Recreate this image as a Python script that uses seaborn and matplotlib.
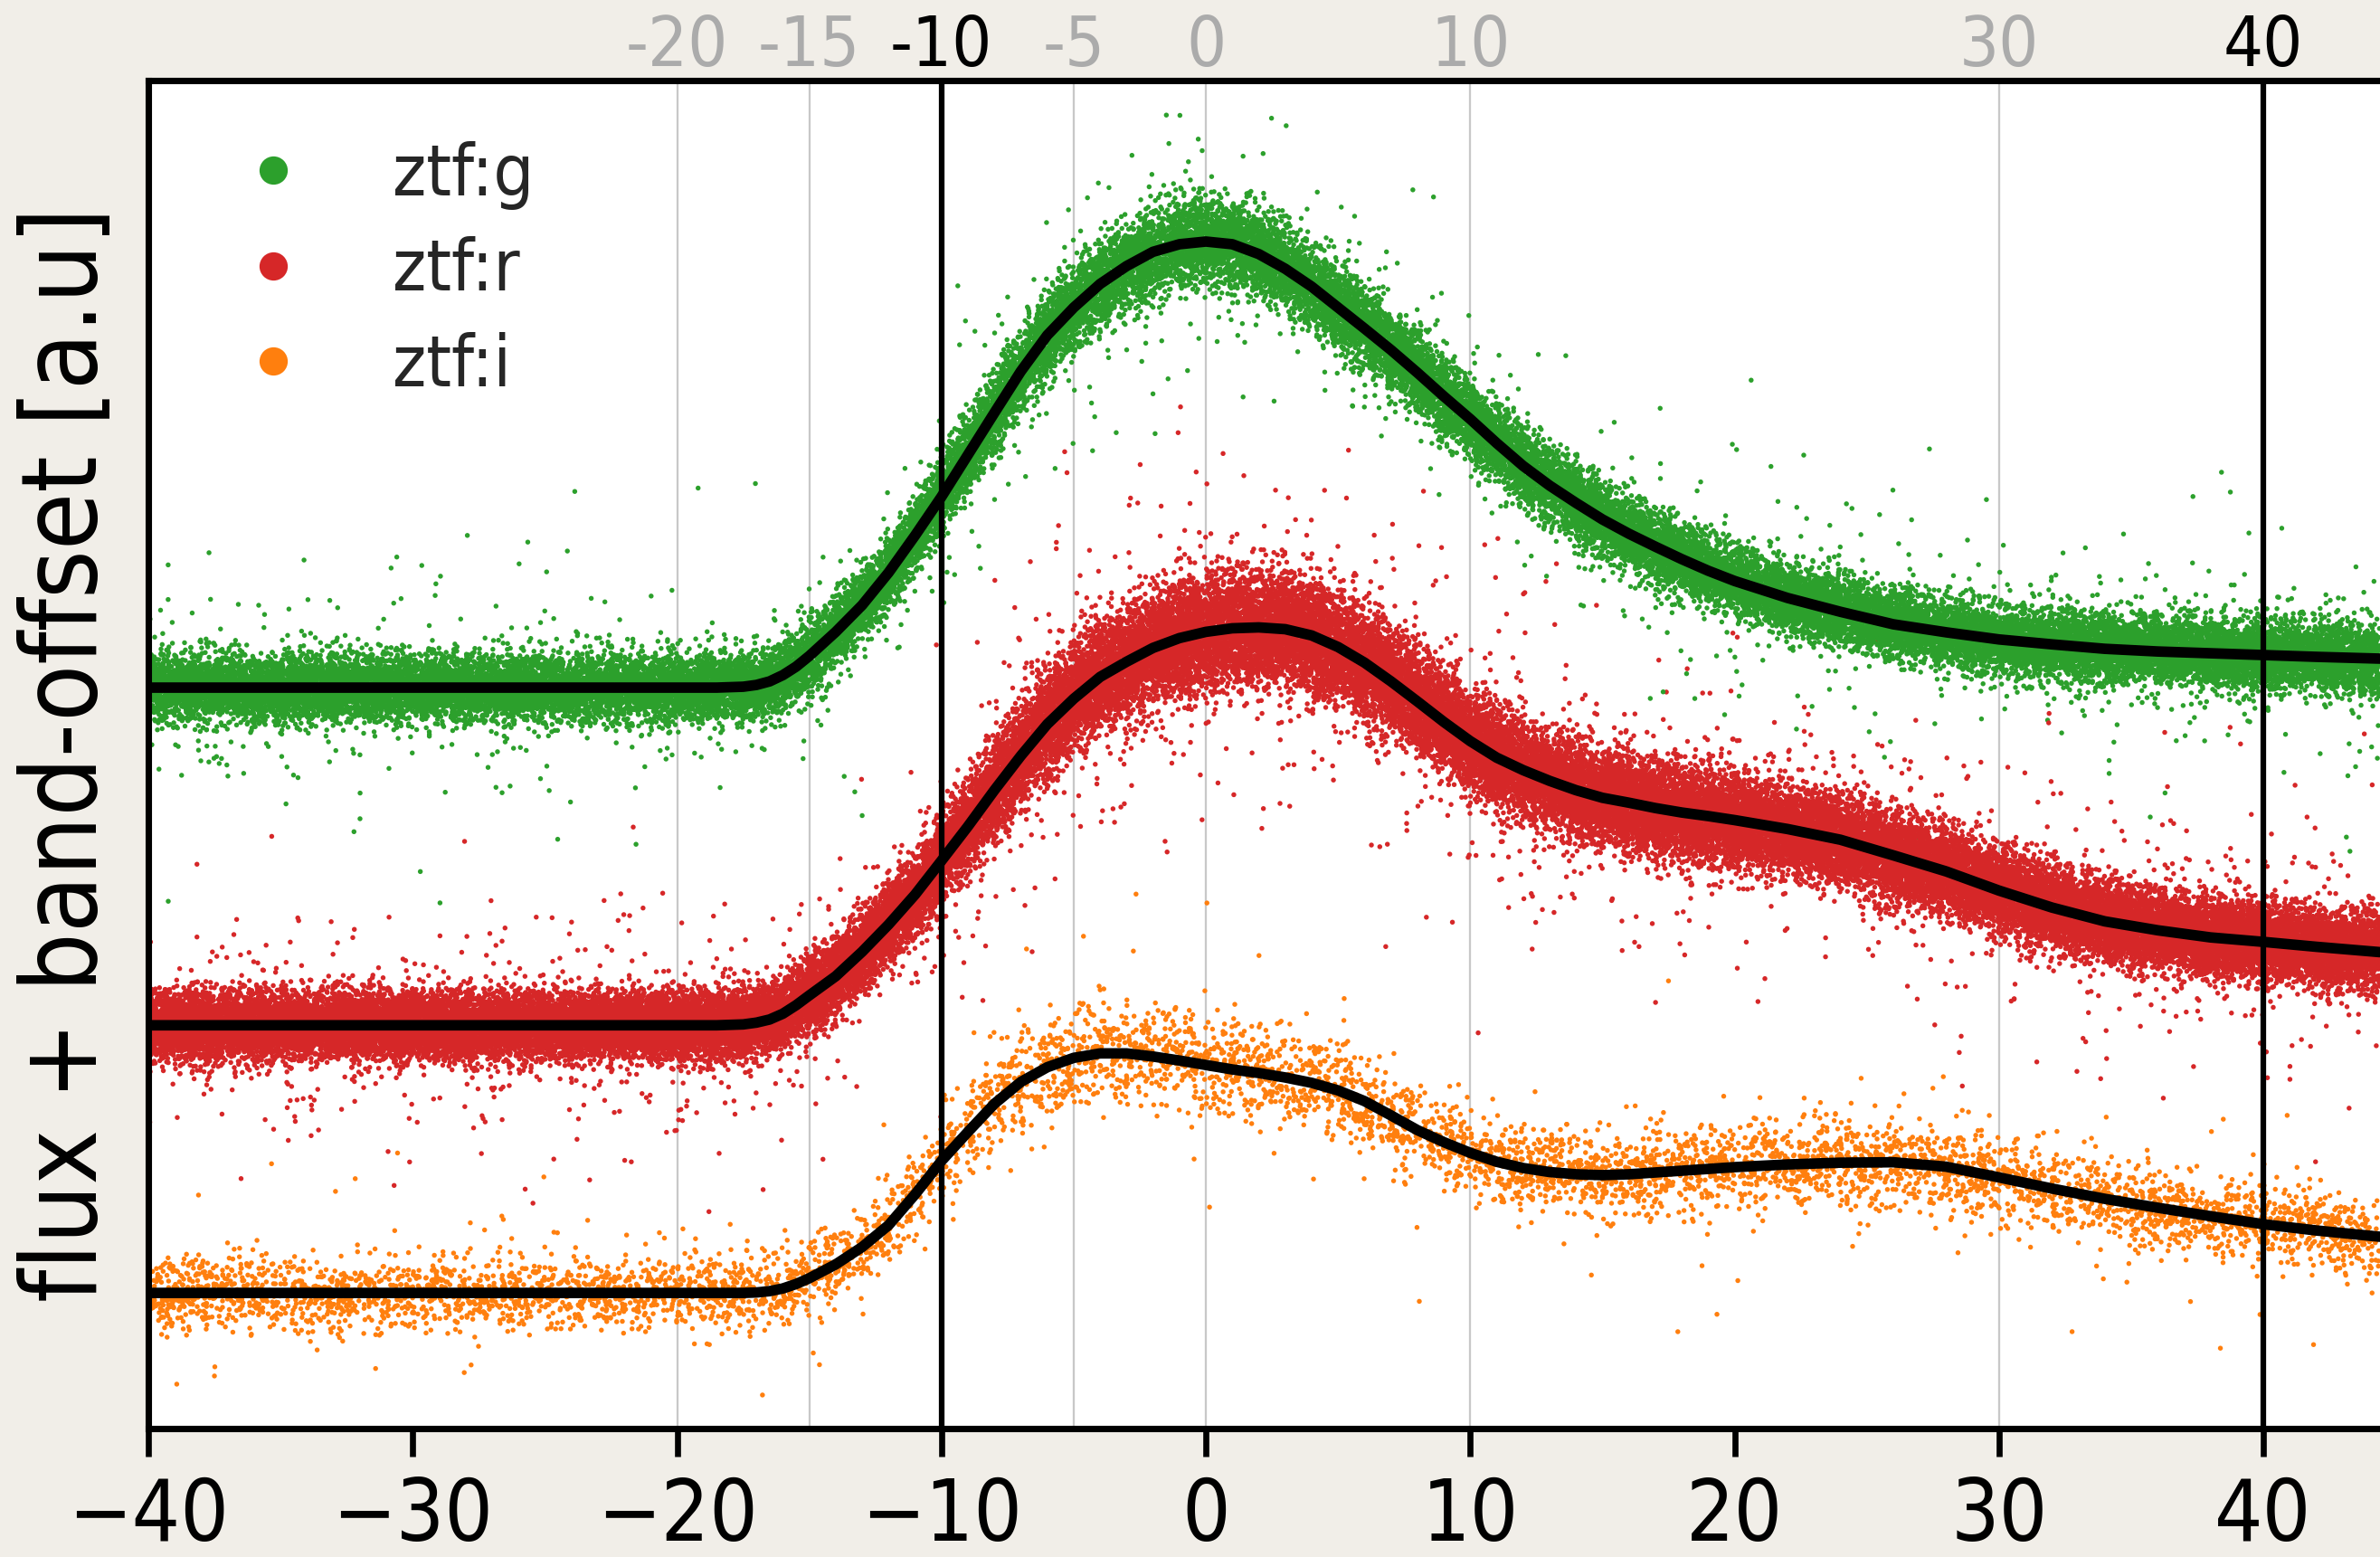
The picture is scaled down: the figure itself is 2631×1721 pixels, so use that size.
import numpy as np
import pandas as pd
import matplotlib
matplotlib.use("Agg")
import matplotlib.pyplot as plt
from matplotlib.lines import Line2D
import seaborn as sns

# Phase grid (days relative to peak) for the fitted model curves
phase = [-40, -30, -20, -18.5, -17.5, -17, -16.5, -16, -15.5, -15, -14, -13, -12,
         -11, -10, -9, -8, -7, -6, -5, -4, -3, -2, -1, 0, 1, 2, 3, 4, 5, 6, 7,
         8, 9, 10, 11, 12, 13, 14, 15, 16, 17, 18, 19, 20, 22, 24, 26, 28, 30,
         32, 34, 36, 38, 40, 42, 44.4]

# Model flux per band (arbitrary units, g-band peak = 1)
flux_g = [0, 0, 0, 0, 0.002, 0.006, 0.014, 0.028, 0.047, 0.071, 0.125, 0.185,
          0.258, 0.341, 0.428, 0.522, 0.616, 0.709, 0.790, 0.852, 0.905, 0.945,
          0.977, 0.994, 1.000, 0.994, 0.972, 0.939, 0.899, 0.852, 0.805, 0.757,
          0.706, 0.653, 0.602, 0.548, 0.497, 0.453, 0.414, 0.377, 0.345, 0.316,
          0.288, 0.262, 0.239, 0.201, 0.170, 0.142, 0.124, 0.108, 0.097, 0.087,
          0.081, 0.077, 0.073, 0.069, 0.065]
flux_r = [0, 0, 0, 0, 0.002, 0.006, 0.013, 0.026, 0.045, 0.067, 0.110, 0.165,
          0.226, 0.293, 0.369, 0.446, 0.527, 0.604, 0.675, 0.732, 0.781, 0.815,
          0.846, 0.868, 0.882, 0.890, 0.892, 0.888, 0.874, 0.848, 0.813, 0.771,
          0.726, 0.680, 0.637, 0.600, 0.572, 0.548, 0.527, 0.510, 0.499, 0.487,
          0.477, 0.469, 0.460, 0.440, 0.416, 0.381, 0.345, 0.302, 0.264, 0.233,
          0.213, 0.197, 0.187, 0.176, 0.164]
flux_i = [0, 0, 0, 0, 0, 0.001, 0.004, 0.010, 0.020, 0.033, 0.064, 0.103, 0.152,
          0.221, 0.296, 0.361, 0.424, 0.473, 0.506, 0.527, 0.537, 0.537, 0.530,
          0.521, 0.511, 0.501, 0.493, 0.483, 0.471, 0.454, 0.430, 0.398, 0.365,
          0.338, 0.314, 0.294, 0.280, 0.271, 0.266, 0.264, 0.266, 0.270, 0.274,
          0.278, 0.282, 0.288, 0.292, 0.293, 0.283, 0.259, 0.234, 0.211, 0.191,
          0.172, 0.154, 0.140, 0.126]

bands = ["ztf:g", "ztf:r", "ztf:i"]
band_offsets = [1.357, 0.600, 0.0]
band_colors = ["#2ca02c", "#d62728", "#ff7f0e"]
n_epochs = [40000, 60000, 6500]
noise_floor = [0.036, 0.036, 0.040]
noise_slope = [0.012, 0.030, 0.032]

top_ticks = [-20, -15, -10, -5, 0, 10, 30, 40]
top_labels = ["-20", "-15", "-10", "-5", "0", "10", "30", "40"]
highlight_phases = [-10, 40]

sns.set_theme(style="ticks")
plt.rcParams["font.family"] = ["DejaVu Sans"]
plt.rcParams["font.stretch"] = "condensed"

# Simulated photometric epochs scattered around each band's model
rng = np.random.default_rng(7)
frames = []
model = {"ztf:g": flux_g, "ztf:r": flux_r, "ztf:i": flux_i}
for band, off, n, s0, s1 in zip(bands, band_offsets, n_epochs, noise_floor, noise_slope):
    t = rng.uniform(-40, 44.4, n)
    mu = np.interp(t, phase, model[band])
    sig = s0 + s1 * mu
    err = rng.normal(0, 1, n) * sig
    wide = rng.random(n) < 0.03
    err[wide] *= 3.2
    far = rng.random(n) < 0.002
    err[far] = rng.uniform(-0.5, 0.5, far.sum())
    frames.append(pd.DataFrame({"phase": t, "flux": mu + err + off, "band": band}))
obs = pd.concat(frames, ignore_index=True).sample(frac=1.0, random_state=3)

fig = plt.figure(figsize=(2631 / 300, 1721 / 300), dpi=300)
fig.patch.set_facecolor("#f1eee8")
ax = fig.add_axes([164 / 2631, (1721 - 1579) / 1721, (2631 - 164) / 2631, (1579 - 89) / 1721])
ax.set_facecolor("white")

sns.scatterplot(data=obs, x="phase", y="flux", hue="band", hue_order=bands,
                palette=band_colors, s=1.7, linewidth=0, marker="o",
                legend=False, ax=ax, rasterized=True, zorder=2)

for band, off in zip(bands, band_offsets):
    sns.lineplot(x=phase, y=np.asarray(model[band]) + off, color="black",
                 lw=2.8, ax=ax, estimator=None, sort=False, zorder=4)

for p in top_ticks:
    if p in highlight_phases:
        ax.axvline(p, color="black", lw=1.5, zorder=5)
    else:
        ax.axvline(p, color="#c8c8c8", lw=0.55, zorder=1)

ax.set_xlim(-40, 44.41)
ax.set_ylim(-0.304, 2.718)
ax.set_yticks([])
ax.set_xticks([-40, -30, -20, -10, 0, 10, 20, 30, 40])
ax.tick_params(axis="x", length=7.5, width=1.6, pad=5, labelsize=22.5, colors="black")
ax.set_xlabel("")
ax.set_ylabel("flux + band-offset [a.u]", fontsize=27.5, labelpad=8, color="black")
for side in ["left", "top", "bottom"]:
    ax.spines[side].set_linewidth(1.7)
    ax.spines[side].set_color("black")
ax.spines["right"].set_visible(False)

top = ax.twiny()
top.set_xlim(ax.get_xlim())
top.set_xticks(top_ticks)
top.set_xticklabels(top_labels)
top.tick_params(axis="x", length=0, pad=0, labelsize=18.5)
for lab, p in zip(top.get_xticklabels(), top_ticks):
    lab.set_color("black" if p in highlight_phases else "#ababab")
for side in ["left", "right", "top", "bottom"]:
    top.spines[side].set_visible(False)

handles = [Line2D([], [], ls="none", marker="o", markersize=7.5,
                  markerfacecolor=c, markeredgewidth=0, color=c)
           for c in band_colors]
ax.legend(handles, bands, loc="upper left", bbox_to_anchor=(0.024, 0.955),
          frameon=False, fontsize=19, handlelength=2.0, handletextpad=0.66,
          labelspacing=0.37, borderpad=0, borderaxespad=0)

fig.savefig("out.png", dpi=300, facecolor=fig.get_facecolor())
